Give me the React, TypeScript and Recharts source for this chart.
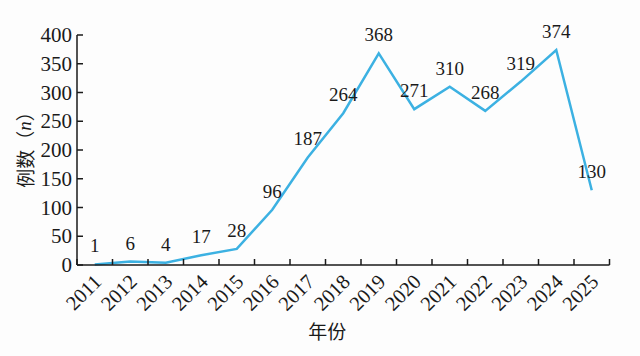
import React from 'react';
import { LineChart, Line, XAxis, YAxis, LabelList } from 'recharts';

const years = ['2011', '2012', '2013', '2014', '2015', '2016', '2017', '2018', '2019', '2020', '2021', '2022', '2023', '2024', '2025'];
const cases = [1, 6, 4, 17, 28, 96, 187, 264, 368, 271, 310, 268, 319, 374, 130];
const yTicks = [0, 50, 100, 150, 200, 250, 300, 350, 400];
const yLabelMain = '例数（';
const yLabelVar = 'n';
const yLabelEnd = '）';
const xLabel = '年份';

const data = years.map((y, i) => ({ x: i + 0.5, year: y, n: cases[i] }));
const xTicks = Array.from({ length: years.length + 1 }, (_, i) => i);

const W = 640;
const H = 356;
const LEFT = 77;
const RIGHT = 30.5;
const TOP = 35;
const XAXIS_H = 91;
const BAND = (W - LEFT - RIGHT) / years.length;

const SERIF = '"Liberation Serif", "Times New Roman", "DejaVu Serif", serif';
const CJK = '"Noto Sans CJK SC", "Noto Sans", sans-serif';
const INK = '#1a1a1a';
const LINE = '#3cb1e2';

const XTick = (props: any) => {
  const { x, y, payload } = props;
  const i = payload.value as number;
  const ax = x + BAND / 2 + 8;
  const ay = y + 18;
  return (
    <g>
      <line x1={x} y1={y} x2={x} y2={y - 6} stroke={INK} strokeWidth={1.5} />
      {i < years.length && (
        <text
          x={ax}
          y={ay}
          transform={`rotate(-45 ${ax} ${ay})`}
          textAnchor="end"
          fontFamily={SERIF}
          fontSize={20.5}
          fill={INK}
        >
          {years[i]}
        </text>
      )}
    </g>
  );
};

const YTick = (props: any) => {
  const { x, y, payload } = props;
  return (
    <g>
      <line x1={x} y1={y} x2={x + 6} y2={y} stroke={INK} strokeWidth={1.5} />
      <text x={x - 5} y={y} textAnchor="end" dominantBaseline="central" fontFamily={SERIF} fontSize={21} fill={INK}>
        {payload.value}
      </text>
    </g>
  );
};

const YLabel = (props: any) => {
  const vb = props.viewBox || { x: 0, y: TOP, width: LEFT, height: 230 };
  const cx = vb.x + 24;
  const cy = vb.y + vb.height / 2 - 5;
  return (
    <text
      x={cx}
      y={cy}
      transform={`rotate(-90 ${cx} ${cy})`}
      textAnchor="middle"
      dominantBaseline="central"
      fontFamily={CJK}
      fontSize={19}
      fill={INK}
    >
      {yLabelMain}
      <tspan fontFamily={SERIF} fontStyle="italic">{yLabelVar}</tspan>
      {yLabelEnd}
    </text>
  );
};

const XLabel = (props: any) => {
  const vb = props.viewBox || { x: LEFT, y: H - XAXIS_H, width: W - LEFT - RIGHT, height: XAXIS_H };
  const cx = vb.x + vb.width / 2 - 16;
  const cy = vb.y + 65;
  return (
    <text x={cx} y={cy} textAnchor="middle" dominantBaseline="central" fontFamily={CJK} fontSize={19} fill={INK}>
      {xLabel}
    </text>
  );
};

export default function App() {
  return (
    <div style={{ position: 'absolute', left: 0, top: 0, width: W, height: H, background: '#fdfdfd' }}>
      <LineChart width={W} height={H} data={data} margin={{ top: TOP, right: RIGHT, left: 0, bottom: 0 }}>
        <XAxis
          type="number"
          dataKey="x"
          domain={[0, years.length]}
          ticks={xTicks}
          interval={0}
          tickSize={0}
          tickMargin={0}
          tickLine={false}
          tick={<XTick />}
          height={XAXIS_H}
          axisLine={{ stroke: INK, strokeWidth: 1.5 }}
          label={<XLabel />}
        />
        <YAxis
          type="number"
          domain={[0, 400]}
          ticks={yTicks}
          interval={0}
          tickSize={0}
          tickMargin={0}
          tickLine={false}
          tick={<YTick />}
          width={LEFT}
          axisLine={{ stroke: INK, strokeWidth: 1.5 }}
          label={<YLabel />}
        />
        <Line
          type="linear"
          dataKey="n"
          stroke={LINE}
          strokeWidth={2.5}
          dot={false}
          activeDot={false}
          isAnimationActive={false}
        >
          <LabelList dataKey="n" position="top" offset={12} fontFamily={SERIF} fontSize={19} fill={INK} />
        </Line>
      </LineChart>
    </div>
  );
}
